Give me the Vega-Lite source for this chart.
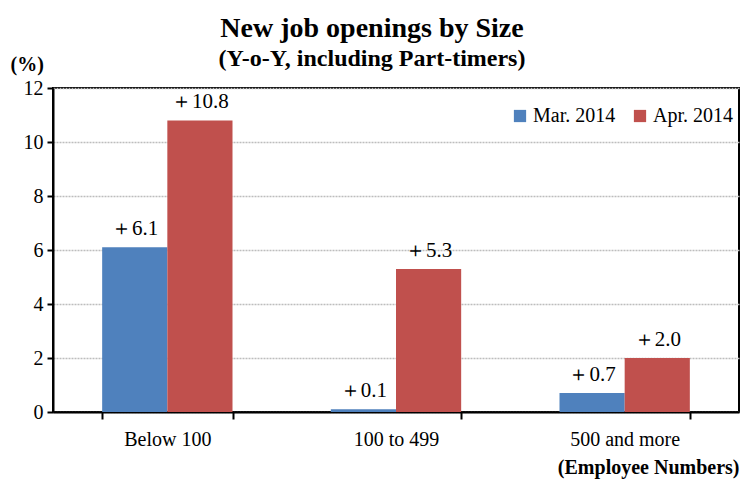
{
  "$schema": "https://vega.github.io/schema/vega-lite/v6.json",
  "autosize": {"type": "none"},
  "width": 686,
  "height": 324,
  "padding": {"left": 53, "top": 88, "right": 6, "bottom": 72},
  "background": "white",
  "title": {
    "text": "New job openings by Size",
    "subtitle": "(Y-o-Y, including Part-timers)",
    "font": "Liberation Serif",
    "fontSize": 28,
    "fontWeight": "bold",
    "color": "black",
    "subtitleFont": "Liberation Serif",
    "subtitleFontSize": 24,
    "subtitleFontWeight": "bold",
    "subtitleColor": "black",
    "subtitlePadding": 4,
    "anchor": "middle",
    "dx": -24,
    "offset": -17
  },
  "data": {
    "values": [
      {"size": "Below 100", "series": "Mar. 2014", "value": 6.1, "label": "＋6.1"},
      {"size": "Below 100", "series": "Apr. 2014", "value": 10.8, "label": "＋10.8"},
      {"size": "100 to 499", "series": "Mar. 2014", "value": 0.1, "label": "＋0.1"},
      {"size": "100 to 499", "series": "Apr. 2014", "value": 5.3, "label": "＋5.3"},
      {"size": "500 and more", "series": "Mar. 2014", "value": 0.7, "label": "＋0.7"},
      {"size": "500 and more", "series": "Apr. 2014", "value": 2.0, "label": "＋2.0"}
    ]
  },
  "encoding": {
    "x": {
      "field": "size",
      "type": "nominal",
      "sort": ["Below 100", "100 to 499", "500 and more"],
      "scale": {"paddingInner": 0.43, "paddingOuter": 0.215},
      "axis": {
        "title": "(Employee Numbers)",
        "titleFont": "Liberation Serif",
        "titleFontSize": 20,
        "titleFontWeight": "bold",
        "titleColor": "black",
        "titleAnchor": "end",
        "titlePadding": 8,
        "labelAngle": 0,
        "labelFont": "Liberation Serif",
        "labelFontSize": 20,
        "labelColor": "black",
        "labelPadding": 10,
        "domainColor": "black",
        "domainWidth": 2,
        "tickColor": "black",
        "tickWidth": 2,
        "tickSize": 7,
        "tickBand": "extent",
        "grid": false
      }
    },
    "xOffset": {"field": "series", "type": "nominal", "sort": ["Mar. 2014", "Apr. 2014"]},
    "y": {
      "field": "value",
      "type": "quantitative",
      "scale": {"domain": [0, 12], "nice": false},
      "axis": {
        "values": [0, 2, 4, 6, 8, 10, 12],
        "title": "(%)",
        "titleAngle": 0,
        "titleAlign": "left",
        "titleBaseline": "middle",
        "titleX": -43,
        "titleY": -24,
        "titleFont": "Liberation Serif",
        "titleFontSize": 20,
        "titleFontWeight": "bold",
        "titleColor": "black",
        "labelFont": "Liberation Serif",
        "labelFontSize": 20,
        "labelColor": "black",
        "labelPadding": 4,
        "domainColor": "black",
        "domainWidth": 2,
        "tickColor": "black",
        "tickWidth": 2,
        "tickSize": 6,
        "grid": true,
        "gridColor": "#bdbdbd",
        "gridDash": [2, 1],
        "gridWidth": 1.5
      }
    }
  },
  "layer": [
    {
      "mark": {"type": "bar"},
      "encoding": {
        "color": {
          "field": "series",
          "type": "nominal",
          "sort": ["Mar. 2014", "Apr. 2014"],
          "scale": {"domain": ["Mar. 2014", "Apr. 2014"], "range": ["#4F81BD", "#C0504D"]},
          "legend": {
            "title": null,
            "orient": "none",
            "direction": "horizontal",
            "legendX": 457,
            "legendY": 18,
            "symbolType": "square",
            "symbolSize": 150,
            "symbolStrokeWidth": 0,
            "labelFont": "Liberation Serif",
            "labelFontSize": 20,
            "labelColor": "black",
            "labelOffset": 3,
            "columnPadding": 14
          }
        }
      }
    },
    {
      "mark": {
        "type": "text",
        "baseline": "bottom",
        "dy": -8,
        "font": "Liberation Serif",
        "fontSize": 21,
        "color": "black"
      },
      "encoding": {"text": {"field": "label"}}
    }
  ],
  "config": {
    "view": {"stroke": "black", "strokeWidth": 2}
  }
}
